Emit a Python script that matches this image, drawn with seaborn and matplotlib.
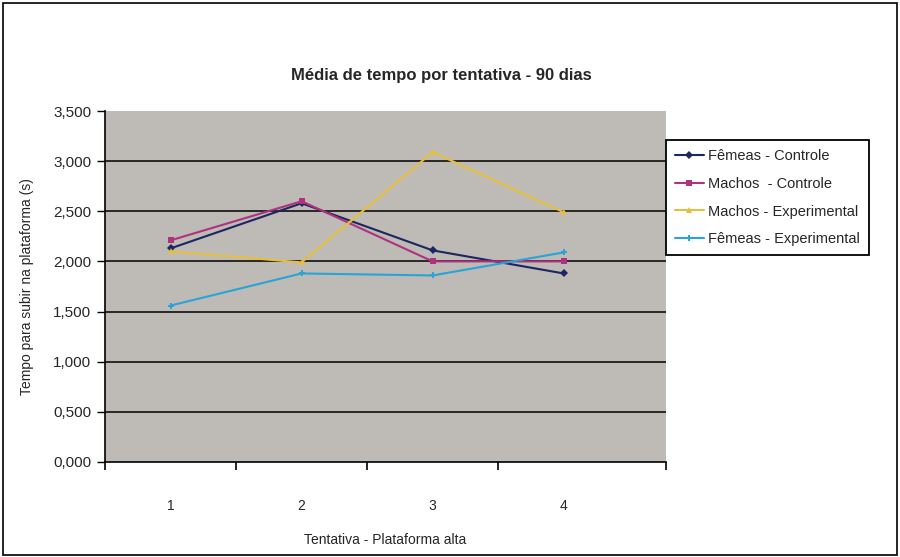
import matplotlib.pyplot as plt
import seaborn as sns
import pandas as pd
from matplotlib.ticker import FuncFormatter
from matplotlib.patches import Rectangle

# values
tentativas = [1, 2, 3, 4]
femeas_controle = [2.13, 2.58, 2.11, 1.88]
machos_controle = [2.21, 2.60, 2.00, 2.00]
machos_experimental = [2.10, 1.99, 3.09, 2.49]
femeas_experimental = [1.56, 1.88, 1.86, 2.09]

grupos = ["Fêmeas - Controle", "Machos  - Controle",
          "Machos - Experimental", "Fêmeas - Experimental"]
series = [femeas_controle, machos_controle, machos_experimental, femeas_experimental]
cores = ["#1c2660", "#b0327e", "#e6c03c", "#2aa4d6"]
marcadores = ["D", "s", "^", "P"]

df = pd.DataFrame({
    "Tentativa": tentativas * len(grupos),
    "Tempo": [v for s in series for v in s],
    "Grupo": [g for g in grupos for _ in tentativas],
})

sns.set_style("white")
plt.rcParams["font.family"] = ["Liberation Sans", "DejaVu Sans"]

fig = plt.figure(figsize=(9, 5.57), dpi=100)
ax = fig.add_axes([0.1167, 0.1706, 0.6233, 0.6301])
ax.set_facecolor("#bebbb6")

for y in [0.5, 1.0, 1.5, 2.0, 2.5, 3.0]:
    ax.axhline(y, color="black", lw=1.1, zorder=1)

sns.lineplot(data=df, x="Tentativa", y="Tempo", hue="Grupo", style="Grupo",
             palette=cores, markers=marcadores, dashes=False, lw=1.5,
             markersize=4.5, markeredgewidth=0, ax=ax, zorder=3)

ax.set_xlim(0.5, 4.78)
ax.set_ylim(0, 3.5)
ax.set_yticks([0, 0.5, 1.0, 1.5, 2.0, 2.5, 3.0, 3.5])
ax.yaxis.set_major_formatter(FuncFormatter(lambda v, p: f"{v:.3f}".replace(".", ",")))
ax.set_xticks([0.5, 1.5, 2.5, 3.5, 4.78])
ax.set_xticks(tentativas, minor=True)
ax.set_xticklabels([])
ax.set_xticklabels([str(t) for t in tentativas], minor=True)
ax.tick_params(bottom=True, left=True)
ax.tick_params(axis="x", which="major", bottom=True, length=6, width=1.2,
               direction="out", color="black")
ax.tick_params(axis="x", which="minor", bottom=True, length=0, pad=27, labelsize=10)
ax.tick_params(axis="y", left=True, length=6, width=1, direction="out",
               color="black", labelsize=11, pad=4)

for side in ["top", "right"]:
    ax.spines[side].set_visible(False)
for side in ["left", "bottom"]:
    ax.spines[side].set_color("black")
    ax.spines[side].set_linewidth(1.2)

ax.set_xlabel("Tentativa - Plataforma alta", fontsize=10, labelpad=14)
ax.set_ylabel("Tempo para subir na plataforma (s)", fontsize=10, labelpad=14)

leg = ax.legend(loc="upper left", bbox_to_anchor=(1.0, 0.917), frameon=True,
                fancybox=False, fontsize=10.5, handlelength=2.0, labelspacing=0.95,
                borderpad=0.6, handletextpad=0.3, borderaxespad=0)
leg.get_frame().set_edgecolor("black")
leg.get_frame().set_linewidth(1.3)
leg.get_frame().set_alpha(1)
leg.set_title(None)

fig.text(0.49, 0.865, "Média de tempo por tentativa - 90 dias",
         ha="center", va="center", fontsize=12, fontweight="bold")

fig.patches.append(Rectangle((0.003, 0.004), 0.994, 0.99, transform=fig.transFigure,
                             fill=False, edgecolor="black", lw=1.2))

fig.savefig("out.png", dpi=100)
